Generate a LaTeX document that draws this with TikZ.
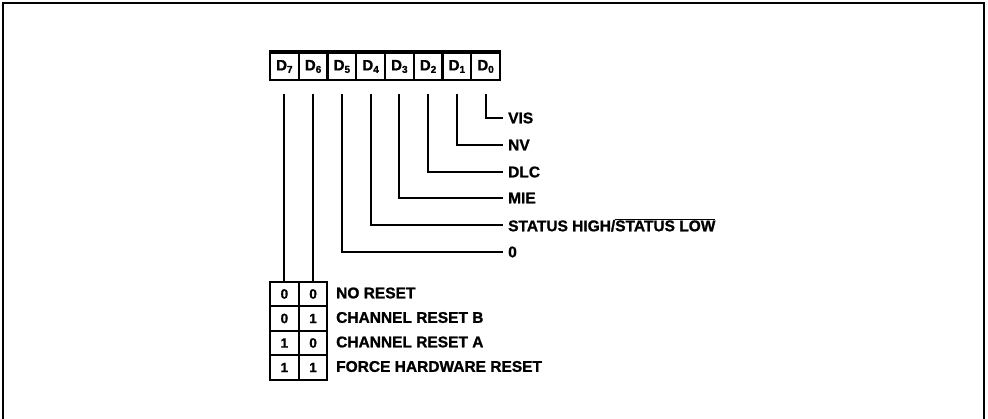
\documentclass[tikz,border=0pt]{standalone}
\usepackage{fontspec}
\setmainfont{Liberation Sans}[BoldFont={Liberation Sans Bold},BoldFeatures={FakeBold=1.2}]
\usetikzlibrary{positioning}
\newcommand{\regbit}[1]{D\raisebox{-2.5pt}{\fontsize{10}{11}\selectfont #1}}
\tikzset{
  regcell/.style={draw,line width=2pt,minimum width=28.75pt,minimum height=27pt,inner sep=0pt,
    font=\bfseries\fontsize{15}{17}\selectfont},
  tabcell/.style={draw,line width=2pt,minimum width=28.75pt,minimum height=24.5pt,inner sep=0pt,
    font=\bfseries\fontsize{13.5}{15}\selectfont},
  bitlabel/.style={anchor=west,inner sep=2pt,font=\bfseries\fontsize{15.5}{17}\selectfont},
  bitline/.style={line width=2pt,shorten >=3pt},
  frameline/.style={line width=1.8pt}
}
\begin{document}
\begin{tikzpicture}[x=1pt,y=-1pt]
  \useasboundingbox (0,0) rectangle (988,419);
  \draw[frameline] (3,419) -- (3,3) -- (984,3) -- (984,419);
  % register bits
  \node[regcell] (d7) at (284.4,66.5) {\regbit{7}};
  \node[regcell] (d6) at (313.1,66.5) {\regbit{6}};
  \node[regcell] (d5) at (341.9,66.5) {\regbit{5}};
  \node[regcell] (d4) at (370.6,66.5) {\regbit{4}};
  \node[regcell] (d3) at (399.4,66.5) {\regbit{3}};
  \node[regcell] (d2) at (428.1,66.5) {\regbit{2}};
  \node[regcell] (d1) at (456.9,66.5) {\regbit{1}};
  \node[regcell] (d0) at (485.6,66.5) {\regbit{0}};
  \draw[line width=3pt] (d7.north west) -- (d0.north east);
  % bit names
  \node[bitlabel] (lvis) at (506,118) {VIS};
  \node[bitlabel] (lnv) at (506,145) {NV};
  \node[bitlabel] (ldlc) at (506,172) {DLC};
  \node[bitlabel] (lmie) at (506,198) {MIE};
  \node[bitlabel] (lstat) at (506,225) {STATUS HIGH/$\overline{\mbox{STATUS LOW}}$};
  \node[bitlabel] (lzero) at (506,252) {0};
  \draw[bitline] ([yshift=-13pt]d0.south) |- (lvis.west);
  \draw[bitline] ([yshift=-13pt]d1.south) |- (lnv.west);
  \draw[bitline] ([yshift=-13pt]d2.south) |- (ldlc.west);
  \draw[bitline] ([yshift=-13pt]d3.south) |- (lmie.west);
  \draw[bitline] ([yshift=-13pt]d4.south) |- (lstat.west);
  \draw[bitline] ([yshift=-13pt]d5.south) |- (lzero.west);
  % reset table
  \node[tabcell] (t0a) at (284.4,294) {0};
  \node[tabcell] (t0b) at (313.1,294) {0};
  \node[tabcell] (t1a) at (284.4,318.5) {0};
  \node[tabcell] (t1b) at (313.1,318.5) {1};
  \node[tabcell] (t2a) at (284.4,343) {1};
  \node[tabcell] (t2b) at (313.1,343) {0};
  \node[tabcell] (t3a) at (284.4,367.5) {1};
  \node[tabcell] (t3b) at (313.1,367.5) {1};
  \node[bitlabel] (lr0) at (334,293) {NO RESET};
  \node[bitlabel] (lr1) at (334,317.5) {CHANNEL RESET B};
  \node[bitlabel] (lr2) at (334,342) {CHANNEL RESET A};
  \node[bitlabel] (lr3) at (334,366.5) {FORCE HARDWARE RESET};
  \draw[bitline,shorten >=0pt] ([yshift=-13pt]d7.south) -- (t0a.north);
  \draw[bitline,shorten >=0pt] ([yshift=-13pt]d6.south) -- (t0b.north);
\end{tikzpicture}
\end{document}
